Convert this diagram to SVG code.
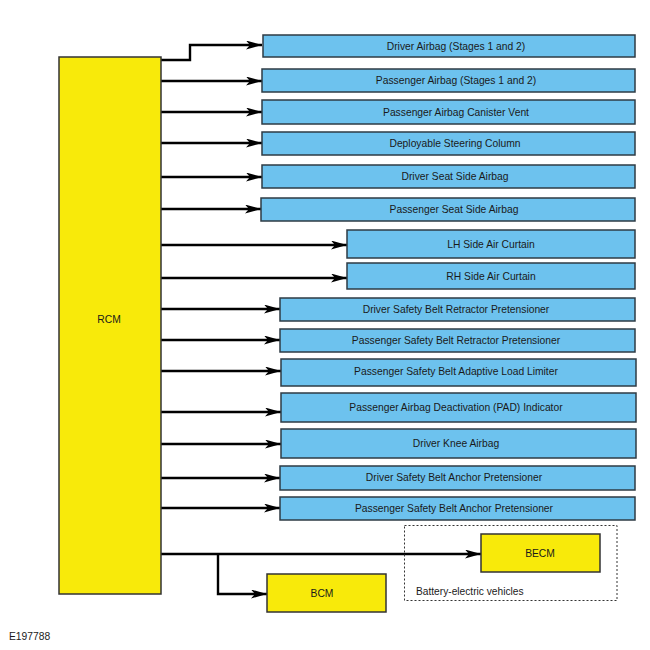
<svg xmlns="http://www.w3.org/2000/svg" width="650" height="650" viewBox="0 0 650 650">
<style>
.b{fill:#6dc2ee;stroke:#2e3b44;stroke-width:1.5}
.y{fill:#f8ea0a;stroke:#333;stroke-width:1.5}
.t{font-family:"Liberation Sans",Arial,sans-serif;font-size:10.3px;fill:#1a1a1a;text-anchor:middle}
.c{fill:none;stroke:#000;stroke-width:2.4;marker-end:url(#a)}
</style>
<defs>
<marker id="a" markerUnits="userSpaceOnUse" markerWidth="16" markerHeight="9" refX="16" refY="4.5" orient="auto" viewBox="0 0 16 9">
<path d="M0,0 L16,4.5 L0,9 L4,4.5 z" fill="#000"/>
</marker>
</defs>
<rect width="650" height="650" fill="#fff"/>
<g id="connectors">
<path class="c" d="M161,60 H190 V45 H262"/>
<path class="c" d="M161,81 H262"/>
<path class="c" d="M161,112 H262"/>
<path class="c" d="M161,143 H262"/>
<path class="c" d="M161,177 H262"/>
<path class="c" d="M161,209 H261"/>
<path class="c" d="M161,245 H347"/>
<path class="c" d="M161,278 H347"/>
<path class="c" d="M161,309 H280"/>
<path class="c" d="M161,340 H280"/>
<path class="c" d="M161,371 H281"/>
<path class="c" d="M161,412 H281"/>
<path class="c" d="M161,444 H281"/>
<path class="c" d="M161,478 H280"/>
<path class="c" d="M161,508 H280"/>
<path class="c" d="M161,554 H481"/>
<path class="c" d="M218,554 V594 H267"/>
</g>
<g id="rcm"><rect class="y" x="59" y="57" width="102" height="537"/><text class="t" x="109" y="323">RCM</text></g>
<g id="n1"><rect class="b" x="263" y="35" width="372" height="22"/><text class="t" x="456" y="50">Driver Airbag (Stages 1 and 2)</text></g>
<g id="n2"><rect class="b" x="262" y="69" width="373" height="23"/><text class="t" x="456" y="84">Passenger Airbag (Stages 1 and 2)</text></g>
<g id="n3"><rect class="b" x="262" y="100" width="373" height="24"/><text class="t" x="456" y="116">Passenger Airbag Canister Vent</text></g>
<g id="n4"><rect class="b" x="262" y="132" width="373" height="23"/><text class="t" x="455" y="147">Deployable Steering Column</text></g>
<g id="n5"><rect class="b" x="262" y="165" width="373" height="23"/><text class="t" x="455" y="180">Driver Seat Side Airbag</text></g>
<g id="n6"><rect class="b" x="261" y="198" width="374" height="23"/><text class="t" x="454" y="213">Passenger Seat Side Airbag</text></g>
<g id="n7"><rect class="b" x="347" y="230" width="288" height="28"/><text class="t" x="491" y="248">LH Side Air Curtain</text></g>
<g id="n8"><rect class="b" x="347" y="263" width="288" height="26"/><text class="t" x="491" y="280">RH Side Air Curtain</text></g>
<g id="n9"><rect class="b" x="280" y="298" width="355" height="23"/><text class="t" x="456" y="313">Driver Safety Belt Retractor Pretensioner</text></g>
<g id="n10"><rect class="b" x="280" y="329" width="355" height="23"/><text class="t" x="456" y="344">Passenger Safety Belt Retractor Pretensioner</text></g>
<g id="n11"><rect class="b" x="281" y="359" width="355" height="27"/><text class="t" x="456" y="375">Passenger Safety Belt Adaptive Load Limiter</text></g>
<g id="n12"><rect class="b" x="281" y="393" width="355" height="29"/><text class="t" x="456" y="411">Passenger Airbag Deactivation (PAD) Indicator</text></g>
<g id="n13"><rect class="b" x="281" y="429" width="355" height="29"/><text class="t" x="456" y="447">Driver Knee Airbag</text></g>
<g id="n14"><rect class="b" x="280" y="466" width="355" height="24"/><text class="t" x="454" y="481">Driver Safety Belt Anchor Pretensioner</text></g>
<g id="n15"><rect class="b" x="280" y="497" width="355" height="23"/><text class="t" x="454" y="512">Passenger Safety Belt Anchor Pretensioner</text></g>
<g id="bev"><rect x="404.5" y="525.5" width="212.5" height="75" fill="none" stroke="#333" stroke-width="1" stroke-dasharray="2,2"/><text font-family="Liberation Sans,Arial,sans-serif" font-size="10.2" fill="#1a1a1a" x="416" y="595">Battery-electric vehicles</text></g>
<g id="becm"><rect class="y" x="481" y="534" width="119" height="38"/><text class="t" x="540" y="557">BECM</text></g>
<g id="bcm"><rect class="y" x="267" y="574" width="119" height="38"/><text class="t" x="322" y="597">BCM</text></g>
<text font-family="Liberation Sans,Arial,sans-serif" font-size="10.3" fill="#1a1a1a" x="9" y="640">E197788</text>
</svg>
